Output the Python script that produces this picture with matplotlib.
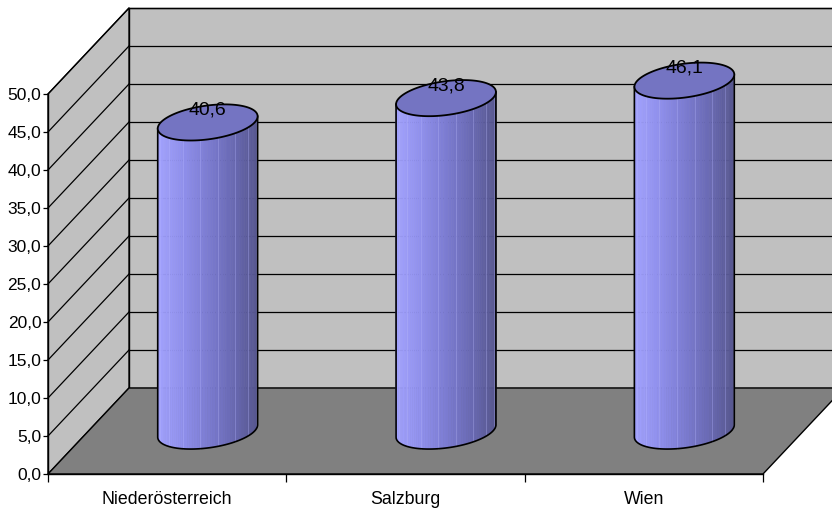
import matplotlib
matplotlib.use("Agg")
import numpy as np
import matplotlib.pyplot as plt
from matplotlib.patches import Polygon
from matplotlib.lines import Line2D
from matplotlib.transforms import IdentityTransform
from matplotlib.colors import LinearSegmentedColormap
from matplotlib import font_manager

# --- data -------------------------------------------------------------
categories = ["Niederösterreich", "Salzburg", "Wien"]
values = [40.6, 43.8, 46.1]
value_labels = ["40,6", "43,8", "46,1"]
y_ticks = [0, 5, 10, 15, 20, 25, 30, 35, 40, 45, 50]
y_tick_labels = ["0,0", "5,0", "10,0", "15,0", "20,0", "25,0",
                 "30,0", "35,0", "40,0", "45,0", "50,0"]

# --- fonts ------------------------------------------------------------
installed = {f.name for f in font_manager.fontManager.ttflist}
if "Liberation Sans Narrow" in installed:
    FAMILY, FS = "Liberation Sans Narrow", 1.0
else:
    FAMILY, FS = "Liberation Sans", 0.93

# --- figure / front plane --------------------------------------------
W, H = 832, 514
fig = plt.figure(figsize=(W / 100, H / 100), dpi=100)
fig.patch.set_facecolor("white")
ax = fig.add_axes([48 / W, 40 / H, 715 / W, 380 / H])
nx = len(categories)
ymax = y_ticks[-1]
ax.set_xlim(0, nx)
ax.set_ylim(0, ymax)
ax.set_autoscale_on(False)
ax.patch.set_visible(False)

# oblique offset (pixels) of the back plane relative to the front plane
DEPTH = np.array([81.0, 86.0])
ident = IdentityTransform()


def proj(x, y, z):
    """Front-plane data coords plus depth fraction z -> display pixels."""
    x, y, z = np.broadcast_arrays(np.atleast_1d(np.asarray(x, float)),
                                  np.atleast_1d(np.asarray(y, float)),
                                  np.atleast_1d(np.asarray(z, float)))
    p = ax.transData.transform(np.column_stack([x, y]))
    return p + np.outer(z, DEPTH)


def face(pts, **kw):
    ax.add_patch(Polygon(pts, closed=True, transform=ident, clip_on=False, **kw))


def line(pts, **kw):
    ax.add_line(Line2D(pts[:, 0], pts[:, 1], transform=ident, clip_on=False, **kw))


# --- walls and floor --------------------------------------------------
face(proj([0, nx, nx, 0], [0, 0, ymax, ymax], 1),
     facecolor="#C0C0C0", edgecolor="black", lw=1.0, zorder=0.5)
face(proj([0, 0, 0, 0], [0, ymax, ymax, 0], [0, 0, 1, 1]),
     facecolor="#C0C0C0", edgecolor="black", lw=1.0, zorder=0.6)
face(proj([0, nx, nx, 0], [0, 0, 0, 0], [0, 0, 1, 1]),
     facecolor="#808080", edgecolor="black", lw=1.0, zorder=0.7)

# gridlines on back wall and side wall
for v in y_ticks[1:]:
    line(proj([0, nx], [v, v], 1), color="black", lw=0.9, zorder=0.8)
    line(proj([0, 0], [v, v], [0, 1]), color="black", lw=0.9, zorder=0.8)

# --- cylinders ----------------------------------------------------------
RX = 0.197      # radius along the category axis (data units)
RD = 0.21       # radius along depth (fraction of full depth)
px_per_x = (proj(1, 0, 0) - proj(0, 0, 0))[0, 0]
t0 = np.arctan2(RD * DEPTH[0], RX * px_per_x)

side_cmap = LinearSegmentedColormap.from_list(
    "cyl", ["#A2A2FF", "#9090EC", "#7C7CD2", "#6A6AB4", "#56568F"])
TOP_COLOR = "#7474C2"

N = 60
for i, v in enumerate(values):
    cx = i + 0.5
    zc = 0.5

    def ring(t, y):
        return proj(cx + RX * np.cos(t), y, zc + RD * np.sin(t))

    ts = np.linspace(t0 + np.pi, t0 + 2 * np.pi, N + 1)
    bot = ring(ts, 0.0)
    top = ring(ts, v)
    xmin, xmax = bot[:, 0].min(), bot[:, 0].max()
    for k in range(N):
        quad = np.array([bot[k], bot[k + 1], top[k + 1], top[k]])
        s = ((quad[:, 0].mean()) - xmin) / (xmax - xmin)
        c = side_cmap(np.clip(s, 0, 1))
        face(quad, facecolor=c, edgecolor=c, lw=0.4, zorder=3 + i)

    # faint facet seams
    for k in range(6, N, 7):
        seam = np.array([bot[k], top[k]])
        line(seam, color="#B8B8FF", lw=0.5, alpha=0.45, zorder=3 + i + 0.1)

    # silhouette outline (sides + front half of base)
    outline = np.vstack([top[:1], bot, top[-1:]])
    line(outline, color="black", lw=1.2, zorder=3 + i + 0.2)

    # top cap
    tt = np.linspace(0, 2 * np.pi, 181)
    face(ring(tt, v), facecolor=TOP_COLOR, edgecolor="black", lw=1.3,
         zorder=3 + i + 0.3)

    # value label
    pos = proj(cx, v, zc)[0]
    ax.annotate(value_labels[i], xy=pos, xycoords="figure pixels",
                xytext=(0, 8), textcoords="offset pixels",
                ha="center", va="baseline", fontsize=15 * FS,
                family=FAMILY, color="black", zorder=20,
                annotation_clip=False)

# --- axes -------------------------------------------------------------
for sp in ("top", "right"):
    ax.spines[sp].set_visible(False)
for sp in ("left", "bottom"):
    ax.spines[sp].set_color("black")
    ax.spines[sp].set_linewidth(1.0)
    ax.spines[sp].set_zorder(10)

ax.set_yticks(y_ticks)
ax.set_yticklabels(y_tick_labels, family=FAMILY, fontsize=13.5 * FS)
ax.tick_params(axis="y", direction="out", length=3.8, width=0.9, pad=1,
               colors="black")

ax.set_xticks(np.arange(nx + 1))
ax.set_xticklabels([])
ax.tick_params(axis="x", which="major", direction="out", length=5.8,
               width=0.9, colors="black")
ax.set_xticks(np.arange(nx) + 0.5, minor=True)
ax.set_xticklabels(categories, minor=True, family=FAMILY, fontsize=13.7 * FS)
ax.tick_params(axis="x", which="minor", length=0, pad=12.5)

fig.savefig("out.png", dpi=100, facecolor="white")
